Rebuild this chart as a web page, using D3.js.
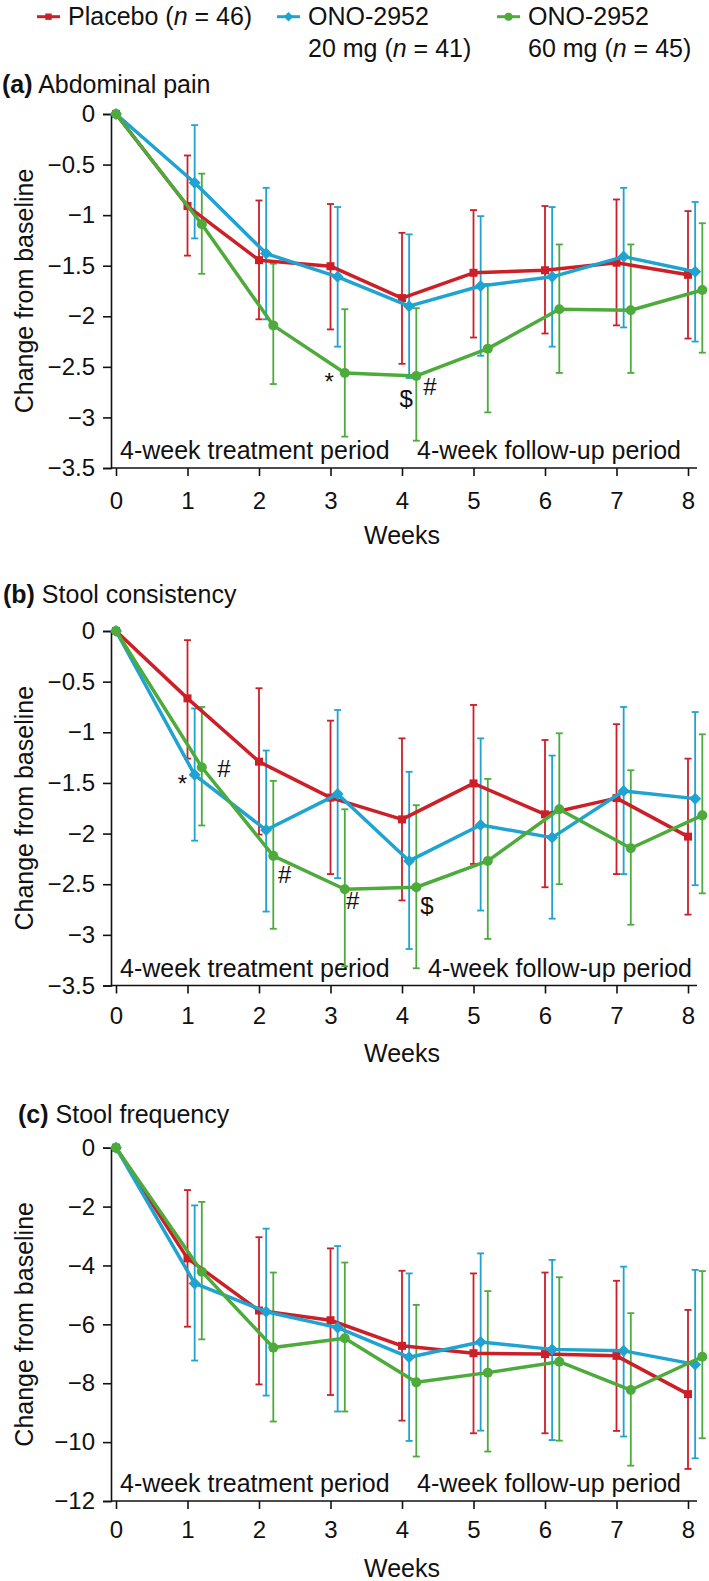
<!DOCTYPE html>
<html>
<head>
<meta charset="utf-8">
<script src="https://cdn.jsdelivr.net/npm/d3@7"></script>
<style>
  html, body { margin: 0; padding: 0; background: #fff; }
  svg { display: block; font-family: "Liberation Sans", Arial, Helvetica, sans-serif; }
</style>
</head>
<body>
<svg id="chart" width="709" height="1581"></svg>
<script>
// ---------------- DATA ----------------
const weeks = [0, 1, 2, 3, 4, 5, 6, 7, 8];
const seriesKeys = ["placebo", "ono20", "ono60"];
const legendLine1 = ["Placebo (", "ONO-2952", "ONO-2952"];
const legendN = ["46", "41", "45"];
const legendLine2 = ["", "20 mg (", "60 mg ("];
const periodLabels = ["4-week treatment period", "4-week follow-up period"];
const panelTitlesBold = ["(a)", "(b)", "(c)"];
const panelTitles = ["Abdominal pain", "Stool consistency", "Stool frequency"];
const xTickLabels = ["0", "1", "2", "3", "4", "5", "6", "7", "8"];
const yTicksAB = [0, -0.5, -1, -1.5, -2, -2.5, -3, -3.5];
const yTicksC = [0, -2, -4, -6, -8, -10, -12];

// (a) Abdominal pain
const placeboA    = [0, -0.91, -1.445, -1.505, -1.82, -1.57, -1.545, -1.47, -1.59];
const placeboA_lo = [0, -1.40, -2.03, -2.13, -2.47, -2.21, -2.17, -2.09, -2.22];
const placeboA_hi = [0, -0.41, -0.855, -0.89, -1.175, -0.95, -0.91, -0.845, -0.96];
const ono20A      = [0, -0.68, -1.38, -1.61, -1.90, -1.70, -1.61, -1.41, -1.56];
const ono20A_lo   = [0, -1.23, -2.03, -2.30, -2.61, -2.39, -2.30, -2.11, -2.25];
const ono20A_hi   = [0, -0.11, -0.73, -0.92, -1.19, -1.01, -0.92, -0.73, -0.87];
const ono60A      = [0, -1.09, -2.09, -2.56, -2.59, -2.32, -1.93, -1.94, -1.74];
const ono60A_lo   = [0, -1.58, -2.67, -3.19, -3.23, -2.95, -2.56, -2.56, -2.36];
const ono60A_hi   = [0, -0.59, -1.48, -1.93, -1.92, -1.68, -1.29, -1.29, -1.08];

// (b) Stool consistency
const placeboB    = [0, -0.665, -1.29, -1.645, -1.86, -1.505, -1.81, -1.65, -2.03];
const placeboB_lo = [0, -1.26, -2.01, -2.40, -2.66, -2.30, -2.53, -2.40, -2.80];
const placeboB_hi = [0, -0.09, -0.565, -0.885, -1.06, -0.73, -1.076, -0.92, -1.26];
const ono20B      = [0, -1.42, -1.965, -1.61, -2.27, -1.915, -2.04, -1.58, -1.655];
const ono20B_lo   = [0, -2.07, -2.77, -2.44, -3.14, -2.76, -2.84, -2.40, -2.51];
const ono20B_hi   = [0, -0.765, -1.18, -0.78, -1.39, -1.06, -1.23, -0.75, -0.80];
const ono60B      = [0, -1.345, -2.22, -2.55, -2.53, -2.27, -1.76, -2.145, -1.82];
const ono60B_lo   = [0, -1.92, -2.94, -3.31, -3.33, -3.04, -2.50, -2.90, -2.59];
const ono60B_hi   = [0, -0.75, -1.48, -1.76, -1.72, -1.46, -1.01, -1.375, -1.02];

// (c) Stool frequency
const placeboC    = [0, -3.76, -5.53, -5.86, -6.73, -6.98, -7.01, -7.07, -8.37];
const placeboC_lo = [0, -6.08, -8.04, -8.40, -9.27, -9.70, -9.70, -9.62, -10.91];
const placeboC_hi = [0, -1.44, -3.04, -3.42, -4.18, -4.27, -4.24, -4.52, -5.51];
const ono20C      = [0, -4.61, -5.57, -6.11, -7.12, -6.60, -6.85, -6.90, -7.36];
const ono20C_lo   = [0, -7.23, -8.42, -8.96, -9.96, -9.61, -9.93, -9.81, -10.55];
const ono20C_hi   = [0, -1.96, -2.75, -3.34, -4.27, -3.59, -3.81, -4.04, -4.15];
const ono60C      = [0, -4.21, -6.79, -6.47, -7.97, -7.64, -7.27, -8.23, -7.10];
const ono60C_lo   = [0, -6.51, -9.30, -8.96, -10.49, -10.32, -9.95, -10.80, -9.87];
const ono60C_hi   = [0, -1.84, -4.24, -3.90, -5.34, -4.87, -4.40, -5.62, -4.19];

// significance annotations (week, value)
const annotA = [
  { week: 2.98, value: -2.58, label: "*" },
  { week: 4.06, value: -2.81, label: "$" },
  { week: 4.39, value: -2.69, label: "#" }
];
const annotB = [
  { week: 0.93, value: -1.44, label: "*" },
  { week: 1.51, value: -1.36, label: "#" },
  { week: 2.36, value: -2.40, label: "#" },
  { week: 3.31, value: -2.66, label: "#" },
  { week: 4.35, value: -2.71, label: "$" }
];
const annotC = [];

// ---------------- STYLE / LAYOUT ----------------
const colors = { placebo: "#cc1f27", ono20: "#1fa3d1", ono60: "#4dab3b" };
const offsets = { placebo: 0, ono20: 0.1, ono60: 0.2 };
const svg = d3.select("#chart");
const FONT = "\"Liberation Sans\", Arial, Helvetica, sans-serif";
const fmt = d => d === 0 ? "0" : ("\u2212" + Math.abs(d));

const panels = [
  { title: 0, top: 114, bottom: 468, ticks: yTicksAB, domain: [-3.5, 0], titleX: 2, titleY: 93,
    followX: 417, xPad: 16,
    data: {
      placebo: [placeboA, placeboA_lo, placeboA_hi],
      ono20: [ono20A, ono20A_lo, ono20A_hi],
      ono60: [ono60A, ono60A_lo, ono60A_hi] }, annot: annotA },
  { title: 1, top: 631, bottom: 985.5, ticks: yTicksAB, domain: [-3.5, 0], titleX: 3, titleY: 603,
    followX: 428, xPad: 13,
    data: {
      placebo: [placeboB, placeboB_lo, placeboB_hi],
      ono20: [ono20B, ono20B_lo, ono20B_hi],
      ono60: [ono60B, ono60B_lo, ono60B_hi] }, annot: annotB },
  { title: 2, top: 1147.7, bottom: 1501, ticks: yTicksC, domain: [-12, 0], titleX: 18, titleY: 1122.5,
    followX: 417, xPad: 12,
    data: {
      placebo: [placeboC, placeboC_lo, placeboC_hi],
      ono20: [ono20C, ono20C_lo, ono20C_hi],
      ono60: [ono60C, ono60C_lo, ono60C_hi] }, annot: annotC }
];

const axisLeftX = 111, axisRightX = 697;
const x = d3.scaleLinear().domain([0, 8]).range([116, 688]);

function drawMarker(g, key, cx, cy, scale) {
  const s = scale || 1;
  if (key === "placebo") {
    const a = 8 * s;
    g.append("rect").attr("x", cx - a / 2).attr("y", cy - a / 2).attr("width", a).attr("height", a)
      .attr("fill", colors[key]);
  } else if (key === "ono20") {
    const r = 6 * s;
    g.append("path").attr("d", `M${cx},${cy - r}L${cx + r},${cy}L${cx},${cy + r}L${cx - r},${cy}Z`)
      .attr("fill", colors[key]);
  } else {
    g.append("circle").attr("cx", cx).attr("cy", cy).attr("r", 5 * s).attr("fill", colors[key]);
  }
}

// ---------------- LEGEND ----------------
const legendX = [37, 277, 497];
const legend = svg.append("g").attr("font-family", FONT).attr("font-size", 25);
seriesKeys.forEach((k, i) => {
  const lx = legendX[i];
  legend.append("line").attr("x1", lx).attr("x2", lx + 23).attr("y1", 16.7).attr("y2", 16.7)
    .attr("stroke", colors[k]).attr("stroke-width", 3);
  drawMarker(legend, k, lx + 11.5, 16.7, 0.8);
  const t1 = legend.append("text").attr("x", lx + 31).attr("y", 25).attr("fill", "#111");
  if (i === 0) {
    t1.append("tspan").text(legendLine1[i]);
    t1.append("tspan").attr("font-style", "italic").text("n");
    t1.append("tspan").text(" = " + legendN[i] + ")");
  } else {
    t1.text(legendLine1[i]);
    const t2 = legend.append("text").attr("x", lx + 31).attr("y", 57).attr("fill", "#111");
    t2.append("tspan").text(legendLine2[i]);
    t2.append("tspan").attr("font-style", "italic").text("n");
    t2.append("tspan").text(" = " + legendN[i] + ")");
  }
});

// ---------------- PANELS ----------------
panels.forEach(p => {
  const y = d3.scaleLinear().domain(p.domain).range([p.bottom, p.top]);
  const g = svg.append("g").attr("font-family", FONT);

  // title
  const tt = g.append("text").attr("x", p.titleX).attr("y", p.titleY).attr("font-size", 25).attr("fill", "#111");
  tt.append("tspan").attr("font-weight", "bold").text(panelTitlesBold[p.title]);
  tt.append("tspan").text(" " + panelTitles[p.title]);

  // y axis
  const yAxis = d3.axisLeft(y).tickValues(p.ticks).tickFormat(fmt).tickSizeOuter(0).tickSize(8).tickPadding(8);
  const ya = g.append("g").attr("transform", `translate(${axisLeftX},0)`).call(yAxis);
  ya.attr("font-size", null).attr("font-family", null);
  ya.select(".domain").attr("stroke", "#111").attr("stroke-width", 1.6);
  ya.selectAll(".tick line").attr("stroke", "#111").attr("stroke-width", 1.6);
  ya.selectAll(".tick text").attr("font-size", 24).attr("font-family", FONT).attr("fill", "#111");

  // x axis
  const xAxis = d3.axisBottom(x).tickValues(weeks).tickFormat((d, i) => xTickLabels[i]).tickSizeOuter(0).tickSize(8).tickPadding(p.xPad);
  const xa = g.append("g").attr("transform", `translate(0,${p.bottom})`).call(xAxis);
  xa.attr("font-size", null).attr("font-family", null);
  xa.select(".domain").attr("d", `M${axisLeftX},0H${axisRightX}`).attr("stroke", "#111").attr("stroke-width", 1.6);
  xa.selectAll(".tick line").attr("stroke", "#111").attr("stroke-width", 1.6);
  xa.selectAll(".tick text").attr("font-size", 24).attr("font-family", FONT).attr("fill", "#111");

  // axis titles
  g.append("text").attr("transform", `translate(33,${(p.top + p.bottom) / 2}) rotate(-90)`)
    .attr("text-anchor", "middle").attr("font-size", 25).attr("fill", "#111").text("Change from baseline");
  g.append("text").attr("x", (x(0) + x(8)) / 2).attr("y", p.bottom + 76)
    .attr("text-anchor", "middle").attr("font-size", 25).attr("fill", "#111").text("Weeks");

  // period labels
  g.append("text").attr("x", 120).attr("y", p.bottom - 9).attr("font-size", 25).attr("fill", "#111").text(periodLabels[0]);
  g.append("text").attr("x", p.followX).attr("y", p.bottom - 9).attr("font-size", 25).attr("fill", "#111").text(periodLabels[1]);

  // error bars
  seriesKeys.forEach(k => {
    const [m, lo, hi] = p.data[k];
    const pts = weeks.map((w, i) => ({ wx: w === 0 ? 0 : w + offsets[k], m: m[i], lo: lo[i], hi: hi[i] }));
    const sg = g.append("g");
    pts.filter(d => d.lo !== d.hi).forEach(d => {
      const cx = x(d.wx);
      sg.append("line").attr("x1", cx).attr("x2", cx).attr("y1", y(d.lo)).attr("y2", y(d.hi))
        .attr("stroke", colors[k]).attr("stroke-width", 1.8);
      [d.lo, d.hi].forEach(v => {
        sg.append("line").attr("x1", cx - 3.5).attr("x2", cx + 3.5).attr("y1", y(v)).attr("y2", y(v))
          .attr("stroke", colors[k]).attr("stroke-width", 1.8);
      });
    });
  });
  // lines + markers
  seriesKeys.forEach(k => {
    const [m] = p.data[k];
    const pts = weeks.map((w, i) => ({ wx: w === 0 ? 0 : w + offsets[k], m: m[i] }));
    const sg = g.append("g");
    sg.append("path").datum(pts)
      .attr("d", d3.line().x(d => x(d.wx)).y(d => y(d.m)))
      .attr("fill", "none").attr("stroke", colors[k]).attr("stroke-width", 3.5).attr("stroke-linejoin", "round");
    pts.forEach(d => drawMarker(sg, k, x(d.wx), y(d.m), 1));
  });

  // annotations
  p.annot.forEach(a => {
    g.append("text").attr("x", x(a.week)).attr("y", y(a.value))
      .attr("dy", a.label === "*" ? "0.62em" : "0.36em")
      .attr("text-anchor", "middle").attr("font-size", 24).attr("fill", "#111").text(a.label);
  });
});
</script>
</body>
</html>
